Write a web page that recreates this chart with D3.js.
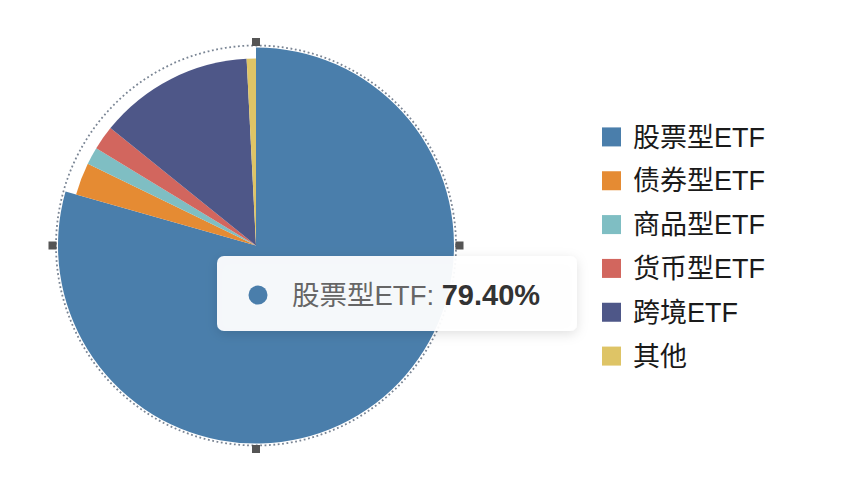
<!DOCTYPE html>
<html lang="zh">
<head>
<meta charset="UTF-8">
<script src="https://d3js.org/d3.v7.min.js"></script>
<style>
  body { margin: 0; background: #fff; font-family: "Liberation Sans", "Noto Sans CJK SC", sans-serif; }
  #vis { display: block; }
</style>
</head>
<body>
<svg id="vis" width="846" height="496"></svg>
<script>
// données du graphique
var categories = ["股票型ETF", "债券型ETF", "商品型ETF", "货币型ETF", "跨境ETF", "其他"];
var values = [79.4, 2.8, 1.5, 2.1, 13.4, 0.8];
var colors = ["#4a7eab", "#e58b33", "#7fbec3", "#d2665e", "#4e5788", "#dec466"];
var highlighted = 0;

var cx = 256, cy = 245.5;
var rNormal = 187, rHigh = 198;

var svg = d3.select("#vis");
var defs = svg.append("defs");
var f = defs.append("filter").attr("id", "shadow")
  .attr("x", "-20%").attr("y", "-40%").attr("width", "140%").attr("height", "180%");
f.append("feDropShadow").attr("dx", 0).attr("dy", 3).attr("stdDeviation", 6)
  .attr("flood-color", "#000").attr("flood-opacity", 0.13);

var pie = d3.pie().sort(null).value(function(d){ return d; });
var arcs = pie(values);

var gPie = svg.append("g").attr("transform", "translate(" + cx + "," + cy + ")");
gPie.selectAll("path").data(arcs).enter().append("path")
  .attr("d", function(d, i){
    return d3.arc().innerRadius(0).outerRadius(i == highlighted ? rHigh : rNormal)(d);
  })
  .attr("fill", function(d, i){ return colors[i]; });

// cercle de sélection en pointillés + poignées
gPie.append("circle").attr("r", 200).attr("fill", "none")
  .attr("stroke", "#7a8594").attr("stroke-width", 1.8).attr("stroke-dasharray", "1.8,2.6");
var handles = [[0, -203.5], [0, 203.5], [-203.5, 0], [203.5, 0]];
gPie.selectAll("rect.h").data(handles).enter().append("rect").attr("class", "h")
  .attr("x", function(d){ return d[0] - 4; }).attr("y", function(d){ return d[1] - 4; })
  .attr("width", 8).attr("height", 8).attr("fill", "#555");

// légende
var scaleY = d3.scaleBand().domain(categories).range([115, 378]);
var gLeg = svg.append("g");
var rows = gLeg.selectAll("g").data(categories).enter().append("g")
  .attr("transform", function(d){ return "translate(602," + (scaleY(d) + scaleY.bandwidth() / 2) + ")"; });
rows.append("rect").attr("x", 0).attr("y", -9.5).attr("width", 19).attr("height", 19)
  .attr("fill", function(d, i){ return colors[i]; });
rows.append("text").attr("x", 31).attr("y", 0).attr("dy", "0.36em")
  .attr("font-size", 27).attr("fill", "#1a1a1a").text(function(d){ return d; });

// infobulle
var tip = svg.append("g").attr("transform", "translate(217,256)");
tip.append("rect").attr("width", 360).attr("height", 75).attr("rx", 7)
  .attr("fill", "rgba(255,255,255,0.94)").attr("filter", "url(#shadow)");
tip.append("circle").attr("cx", 41).attr("cy", 39).attr("r", 9.5).attr("fill", colors[highlighted]);
var t = tip.append("text").attr("x", 75).attr("y", 39).attr("dy", "0.36em").attr("font-size", 27.5);
t.append("tspan").attr("fill", "#666").text(categories[highlighted] + ": ");
t.append("tspan").attr("fill", "#333").attr("font-weight", "bold").attr("font-size", 29)
  .text(values[highlighted].toFixed(2) + "%");
</script>
</body>
</html>
